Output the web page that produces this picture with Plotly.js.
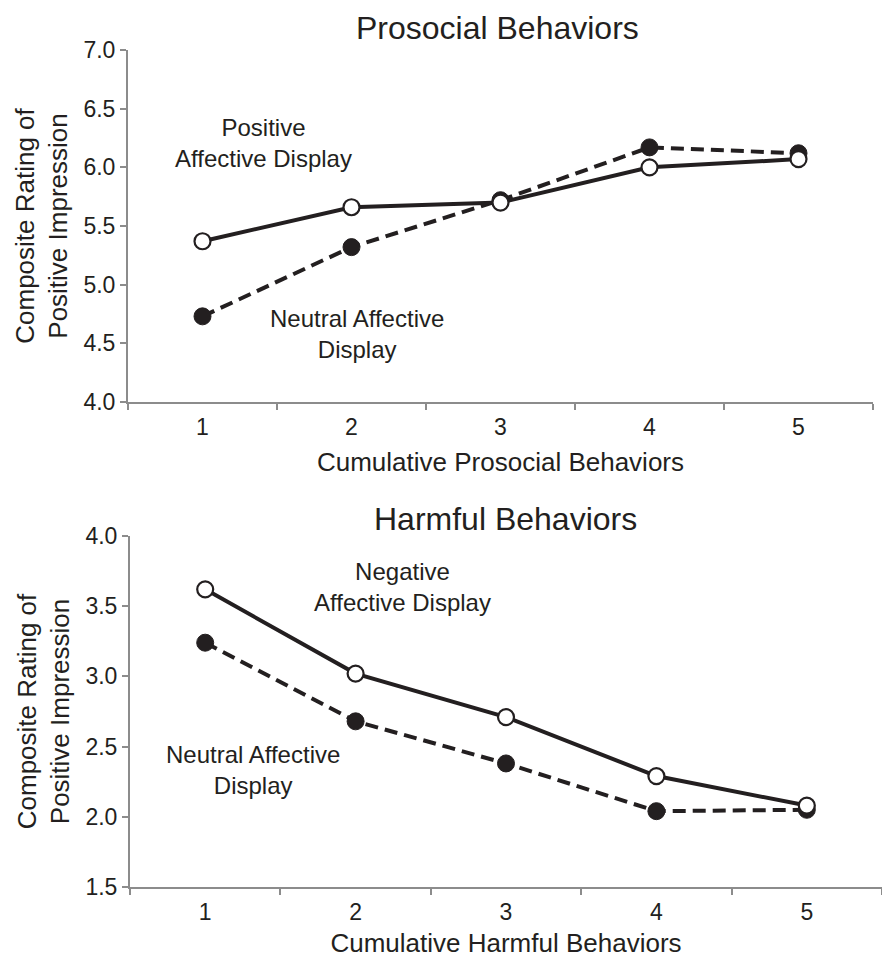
<!DOCTYPE html>
<html>
<head>
<meta charset="utf-8">
<script src="https://cdn.plot.ly/plotly-3.0.1.min.js"></script>
<style>html,body{margin:0;padding:0;background:#fff;}#chart{width:882px;height:958px;}</style>
</head>
<body>
<div id="chart"></div>
<script>
// Data
const categories = ['1', '2', '3', '4', '5'];
const prosocialPositive = [5.37, 5.66, 5.70, 6.00, 6.07];
const prosocialNeutral  = [4.73, 5.32, 5.72, 6.17, 6.12];
const harmfulNegative   = [3.62, 3.02, 2.71, 2.29, 2.08];
const harmfulNeutral    = [3.24, 2.68, 2.38, 2.04, 2.05];
const yTicksTop = [4.0, 4.5, 5.0, 5.5, 6.0, 6.5, 7.0];
const yTicksBottom = [1.5, 2.0, 2.5, 3.0, 3.5, 4.0];

const W = 882, H = 958;
const ink = '#231f20';
const axisGray = '#8c8c8c';
const FONT = 'Liberation Sans, Arial, Helvetica, sans-serif';

function solidTrace(y, xa, ya, name) {
  return {
    x: categories, y: y, xaxis: xa, yaxis: ya, name: name,
    type: 'scatter', mode: 'lines+markers',
    line: {color: ink, width: 4},
    marker: {symbol: 'circle', size: 16, color: '#ffffff', line: {color: ink, width: 2.2}},
    cliponaxis: false, showlegend: false, hoverinfo: 'x+y'
  };
}
function dashTrace(y, xa, ya, name) {
  return {
    x: categories, y: y, xaxis: xa, yaxis: ya, name: name,
    type: 'scatter', mode: 'lines+markers',
    line: {color: ink, width: 4, dash: '13px,7px'},
    marker: {symbol: 'circle', size: 17, color: ink, line: {color: ink, width: 1}},
    cliponaxis: false, showlegend: false, hoverinfo: 'x+y'
  };
}

const data = [
  dashTrace(prosocialNeutral, 'x', 'y', 'Neutral Affective Display'),
  solidTrace(prosocialPositive, 'x', 'y', 'Positive Affective Display'),
  dashTrace(harmfulNeutral, 'x2', 'y2', 'Neutral Affective Display'),
  solidTrace(harmfulNegative, 'x2', 'y2', 'Negative Affective Display')
];

function xAxis(domain, anchor, title) {
  return {
    domain: domain, anchor: anchor, type: 'category',
    categoryorder: 'array', categoryarray: categories,
    range: [-0.5, 4.5], tickson: 'boundaries',
    showline: true, linecolor: axisGray, linewidth: 2,
    ticks: 'outside', ticklen: 6, tickwidth: 2, tickcolor: axisGray,
    ticklabelstandoff: 3,
    showgrid: false, zeroline: false,
    tickfont: {family: FONT, size: 23, color: ink},
    title: {text: title, font: {family: FONT, size: 26, color: ink}, standoff: 14},
    automargin: false, fixedrange: true
  };
}
function yAxis(domain, anchor, range, ticks) {
  return {
    domain: domain, anchor: anchor, range: range,
    tickmode: 'array', tickvals: ticks, ticktext: ticks.map(v => v.toFixed(1)),
    showline: true, linecolor: axisGray, linewidth: 2,
    ticks: 'outside', ticklen: 6, tickwidth: 2, tickcolor: axisGray,
    showgrid: false, zeroline: false,
    tickfont: {family: FONT, size: 23, color: ink},
    title: {text: 'Composite Rating of<br>Positive Impression', font: {family: FONT, size: 26, color: ink}, standoff: 8},
    automargin: false, fixedrange: true
  };
}

const annFont = {family: FONT, size: 24, color: ink};
const layout = {
  width: W, height: H,
  margin: {l: 0, r: 0, t: 0, b: 0},
  paper_bgcolor: '#ffffff', plot_bgcolor: '#ffffff',
  font: {family: FONT, color: ink},
  showlegend: false,
  xaxis: xAxis([128 / W, 873 / W], 'y', 'Cumulative Prosocial Behaviors'),
  yaxis: yAxis([1 - 402 / H, 1 - 50 / H], 'x', [4, 7], yTicksTop),
  xaxis2: xAxis([130 / W, 1], 'y2', 'Cumulative Harmful Behaviors'),
  yaxis2: yAxis([1 - 887 / H, 1 - 536 / H], 'x2', [1.5, 4], yTicksBottom),
  annotations: [
    {xref: 'paper', yref: 'paper', x: 497 / W, y: 1 - 28 / H, xanchor: 'center', yanchor: 'middle',
     text: 'Prosocial Behaviors', showarrow: false, font: {family: FONT, size: 32, color: ink}},
    {xref: 'paper', yref: 'paper', x: 505 / W, y: 1 - 519 / H, xanchor: 'center', yanchor: 'middle',
     text: 'Harmful Behaviors', showarrow: false, font: {family: FONT, size: 32, color: ink}},
    {xref: 'x', yref: 'y', x: 0.41, y: 6.21, xanchor: 'center', yanchor: 'middle',
     text: 'Positive<br>Affective Display', showarrow: false, font: annFont},
    {xref: 'x', yref: 'y', x: 1.04, y: 4.58, xanchor: 'center', yanchor: 'middle',
     text: 'Neutral Affective<br>Display', showarrow: false, font: annFont},
    {xref: 'x2', yref: 'y2', x: 1.31, y: 3.64, xanchor: 'center', yanchor: 'middle',
     text: 'Negative<br>Affective Display', showarrow: false, font: annFont},
    {xref: 'x2', yref: 'y2', x: 0.32, y: 2.33, xanchor: 'center', yanchor: 'middle',
     text: 'Neutral Affective<br>Display', showarrow: false, font: annFont}
  ]
};

Plotly.newPlot('chart', data, layout, {displayModeBar: false, staticPlot: true});
</script>
</body>
</html>
